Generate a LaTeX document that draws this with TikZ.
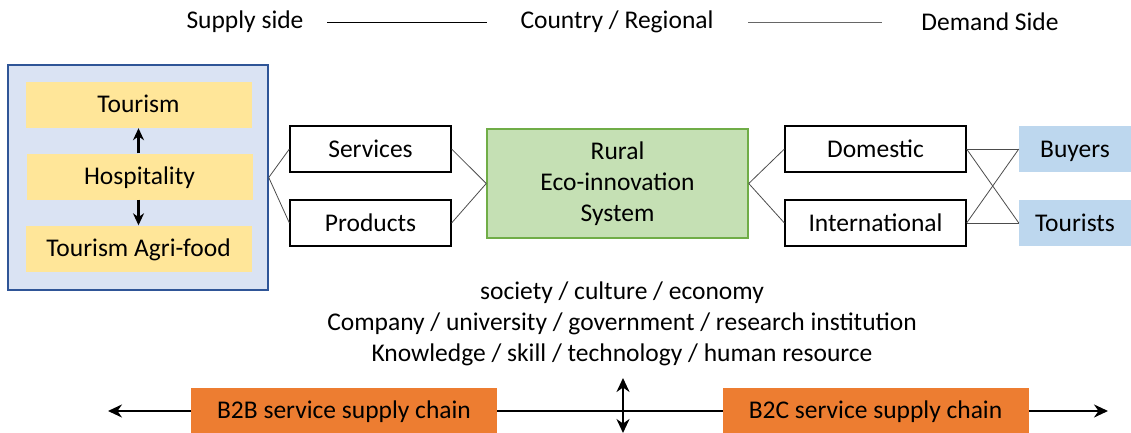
\documentclass[tikz,border=0pt]{standalone}
\usepackage{fontspec}
\setmainfont{Carlito}
\usepackage{tikz}
\usetikzlibrary{arrows.meta}
\usetikzlibrary{positioning}
\definecolor{sideblue}{RGB}{218,227,243}
\definecolor{sideborder}{RGB}{47,85,151}
\definecolor{sectyellow}{RGB}{255,230,153}
\definecolor{sysgreen}{RGB}{197,224,180}
\definecolor{sysborder}{RGB}{112,173,71}
\definecolor{custblue}{RGB}{189,215,238}
\definecolor{chainorange}{RGB}{237,125,49}
\tikzstyle{sector} = [rectangle, fill=sectyellow, minimum width=226pt, minimum height=46pt, text height=20pt, text depth=4pt, text centered]
\tikzstyle{market} = [rectangle, draw=black, line width=1.2pt, fill=white, minimum width=161pt, minimum height=46pt, text height=20pt, text depth=4pt, text centered]
\tikzstyle{customer} = [rectangle, fill=custblue, minimum width=112pt, minimum height=46pt, text height=20pt, text depth=4pt, text centered]
\tikzstyle{chain} = [rectangle, fill=chainorange, minimum width=306pt, minimum height=45pt, text height=20pt, text depth=4pt, text centered]
\tikzstyle{link} = [draw=black!70, line width=0.8pt]
\tikzstyle{arrow} = [line width=2.4pt,-{Stealth[length=12pt,width=11pt]}]
\tikzstyle{bigarrow} = [line width=2.8pt,{Stealth[length=14pt,width=13pt]}-{Stealth[length=14pt,width=13pt]}]

\begin{document}
\begin{tikzpicture}[x=1pt, y=-1pt, font=\fontsize{25.5}{30}\selectfont]
    \useasboundingbox (0,0) rectangle (1131,433);

    %% top scale
    \node (supply) at (245,22) {Supply side};
    \node (country) at (617,22) {Country / Regional};
    \node (demand) at (990,22) {Demand Side};
    \coordinate (l1a) at (327,22);
    \coordinate (l1b) at (487,22);
    \coordinate (l2a) at (748,22);
    \coordinate (l2b) at (882,22);
    \draw [line width=0.8pt] (l1a) to (l1b);
    \draw [line width=0.8pt, black!60] (l2a) to (l2b);

    %% supply side box
    \node (side) [rectangle, draw=sideborder, line width=1.5pt, fill=sideblue, minimum width=260pt, minimum height=225pt] at (138,177.5) {};
    \node (tourism) [sector] at (138.5,105) {Tourism};
    \node (hosp) [sector] at (139.5,176.5) {Hospitality};
    \node (agri) [sector] at (138.5,248.5) {Tourism Agri-food};
    \draw [arrow] (hosp.north -| tourism.south) to (tourism.south);
    \draw [arrow] (hosp.south -| agri.north) to (agri.north);

    %% offer
    \node (serv) [market] at (370.5,149) {Services};
    \node (prod) [market] at (370.5,223) {Products};
    \draw [link] (side.east) to (serv.west);
    \draw [link] (side.east) to (prod.west);

    %% system
    \node (sys) [rectangle, draw=sysborder, line width=1.5pt, fill=sysgreen, minimum width=261pt, minimum height=109pt, align=center, font=\fontsize{25.5}{31}\selectfont] at (617.5,183.5) {Rural\\Eco-innovation\\System};
    \draw [link] (serv.east) to (sys.west);
    \draw [link] (prod.east) to (sys.west);

    %% markets
    \node (dom) [market, minimum width=181pt] at (875.5,149) {Domestic};
    \node (intl) [market, minimum width=181pt] at (875.5,223) {International};
    \draw [link] (sys.east) to (dom.west);
    \draw [link] (sys.east) to (intl.west);

    %% customers
    \node (buy) [customer] at (1075,149) {Buyers};
    \node (tour) [customer] at (1075,223) {Tourists};
    \draw [link] (dom.east) to (buy.west);
    \draw [link] (dom.east) to (tour.west);
    \draw [link] (intl.east) to (tour.west);
    \draw [link] (intl.east) to (buy.west);

    %% context
    \node (ctx) [align=center, font=\fontsize{25.5}{31}\selectfont] at (622,324) {society / culture / economy\\Company / university / government / research institution\\Knowledge / skill / technology / human resource};

    %% supply chains
    \coordinate (cl) at (108,411);
    \coordinate (cr) at (1108,411);
    \coordinate (vt) at (623,378);
    \coordinate (vb) at (623,433);
    \draw [bigarrow] (cl) to (cr);
    \draw [bigarrow] (vt) to (vb);
    \node (b2b) [chain] at (344,410.5) {B2B service supply chain};
    \node (b2c) [chain] at (875.5,410.5) {B2C service supply chain};
\end{tikzpicture}
\end{document}
